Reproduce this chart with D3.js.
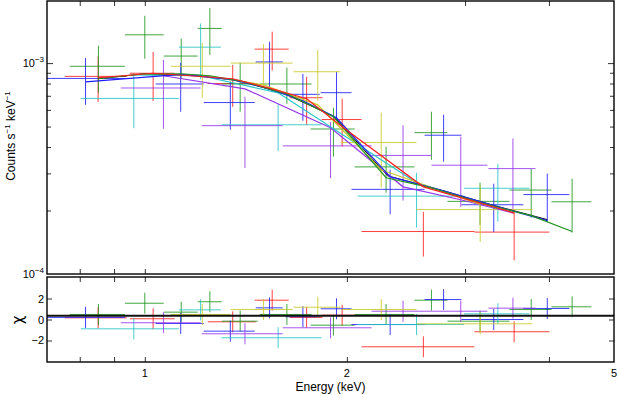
<!DOCTYPE html>
<html>
<head>
<meta charset="utf-8">
<script src="https://cdn.jsdelivr.net/npm/d3@7/dist/d3.min.js"></script>
<style>
body { margin: 0; background: #fff; }
svg { display: block; font-family: "Liberation Sans", Arial, sans-serif; }
</style>
</head>
<body>
<script>
// spectra, one row per bin: [E, Elo, Ehi, flux, fluxErr, chi]
var red = [
  [0.852, 0.760, 0.940, 8.65e-4, 2.10e-4, 0.16],
  [1.029, 0.950, 1.108, 8.95e-4, 2.34e-4, 0.07],
  [1.352, 1.241, 1.463, 8.00e-4, 1.80e-4, -0.22],
  [1.548, 1.458, 1.638, 1.165e-3, 2.44e-4, 1.84],
  [1.742, 1.644, 1.840, 6.85e-4, 1.76e-4, 0.20],
  [1.968, 1.834, 2.103, 5.40e-4, 1.38e-4, 0.41],
  [2.600, 2.103, 3.098, 1.59e-4, 3.8e-5, -2.60],
  [3.550, 3.098, 4.007, 1.58e-4, 4.2e-5, -1.17]
];
var green = [
  [0.853, 0.773, 0.934, 9.66e-4, 2.43e-4, 0.48],
  [1.000, 0.934, 1.067, 1.362e-3, 3.14e-4, 1.55],
  [1.133, 1.067, 1.199, 1.080e-3, 2.26e-4, 0.70],
  [1.250, 1.199, 1.302, 1.460e-3, 3.66e-4, 1.69],
  [1.387, 1.302, 1.473, 7.96e-4, 2.08e-4, -0.16],
  [1.628, 1.483, 1.772, 7.96e-4, 1.55e-4, 0.48],
  [1.910, 1.766, 2.054, 4.87e-4, 1.27e-4, -0.54],
  [2.288, 2.054, 2.522, 3.22e-4, 7.9e-5, 0.48],
  [2.673, 2.522, 2.824, 4.68e-4, 1.20e-4, 1.84],
  [3.158, 2.824, 3.493, 2.21e-4, 5.0e-5, -0.16],
  [3.764, 3.493, 4.035, 2.50e-4, 6.5e-5, 0.95],
  [4.331, 4.035, 4.627, 2.20e-4, 6.3e-5, 1.21]
];
var blue = [
  [0.816, 0.698, 0.934, 8.46e-4, 2.12e-4, 0.20],
  [1.131, 1.038, 1.224, 7.96e-4, 2.08e-4, -0.38],
  [1.341, 1.224, 1.458, 6.50e-4, 1.66e-4, -1.11],
  [1.534, 1.463, 1.605, 1.013e-3, 2.49e-4, 1.11],
  [1.720, 1.621, 1.822, 7.11e-4, 1.78e-4, 0.26],
  [1.930, 1.828, 2.032, 7.24e-4, 1.85e-4, 1.02],
  [2.320, 2.032, 2.611, 2.52e-4, 6.0e-5, -0.48],
  [2.787, 2.611, 2.963, 4.55e-4, 1.14e-4, 1.90],
  [3.310, 2.963, 3.664, 2.13e-4, 5.5e-5, 0.00],
  [3.977, 3.664, 4.290, 2.38e-4, 6.1e-5, 1.05]
];
var cyan = [
  [0.963, 0.803, 1.124, 6.80e-4, 1.89e-4, -0.89],
  [1.211, 1.124, 1.298, 1.190e-3, 3.51e-4, 0.92],
  [1.580, 1.302, 1.834, 5.10e-4, 1.27e-4, -1.74],
  [2.540, 2.075, 2.990, 2.34e-4, 6.8e-5, -0.48],
  [3.357, 2.990, 3.741, 2.55e-4, 7.8e-5, 0.54]
];
var purple = [
  [1.066, 0.921, 1.211, 7.62e-4, 2.74e-4, -0.31],
  [1.410, 1.216, 1.605, 5.05e-4, 1.87e-4, -1.36],
  [1.891, 1.605, 2.177, 4.05e-4, 1.20e-4, -0.79],
  [2.425, 2.177, 2.674, 3.65e-4, 1.42e-4, 0.79],
  [2.956, 2.674, 3.239, 3.28e-4, 1.20e-4, 0.79],
  [3.535, 3.250, 3.819, 3.16e-4, 1.23e-4, 1.08]
];
var yellow = [
  [1.218, 1.093, 1.343, 9.66e-4, 2.80e-4, 0.48],
  [1.502, 1.343, 1.661, 1.000e-3, 2.30e-4, 0.95],
  [1.810, 1.666, 1.957, 9.10e-4, 2.46e-4, 1.17],
  [2.250, 1.964, 2.539, 4.20e-4, 1.63e-4, 0.95],
  [3.160, 2.539, 3.780, 2.02e-4, 6.0e-5, -0.41]
];

// folded model at the bin centres: [E, flux]
var blackModel = [[0.851, 8.43e-4], [1.0, 8.90e-4], [1.207, 8.75e-4], [1.409, 8.15e-4], [1.627, 7.08e-4],
  [1.911, 5.60e-4], [2.300, 2.92e-4], [2.749, 2.51e-4], [3.318, 2.11e-4], [3.98, 1.81e-4]];
var redModel = [[0.852, 8.52e-4], [1.029, 8.95e-4], [1.352, 8.43e-4], [1.548, 7.55e-4], [1.742, 6.78e-4],
  [1.968, 4.99e-4], [2.60, 2.59e-4], [3.55, 1.95e-4]];
var greenModel = [[0.853, 8.43e-4], [1.0, 8.90e-4], [1.133, 8.90e-4], [1.25, 8.71e-4], [1.387, 8.24e-4],
  [1.628, 7.15e-4], [1.91, 5.57e-4], [2.288, 2.86e-4], [2.673, 2.56e-4], [3.158, 2.18e-4],
  [3.764, 1.89e-4], [4.331, 1.59e-4]];
var blueModel = [[0.816, 8.15e-4], [1.131, 8.85e-4], [1.341, 8.38e-4], [1.534, 7.55e-4], [1.72, 6.63e-4],
  [1.93, 5.50e-4], [2.32, 2.89e-4], [2.787, 2.48e-4], [3.31, 2.11e-4], [3.977, 1.79e-4]];
var cyanModel = [[0.963, 8.80e-4], [1.211, 8.71e-4], [1.58, 7.23e-4], [2.54, 2.71e-4], [3.357, 2.04e-4]];
var purpleModel = [[1.066, 8.71e-4], [1.41, 7.55e-4], [1.891, 4.94e-4], [2.425, 2.59e-4], [2.956, 2.25e-4],
  [3.535, 1.95e-4]];
var yellowModel = [[1.218, 8.75e-4], [1.502, 7.89e-4], [1.81, 6.34e-4], [2.25, 3.12e-4], [3.16, 2.135e-4]];

var xTicks = [0.8, 0.9, 1, 2, 3, 4];
var xLabels = [1, 2, 5];
var yMajor = [1e-3];
var yMinor = [2e-4, 3e-4, 4e-4, 5e-4, 6e-4, 7e-4, 8e-4, 9e-4];
var yLabels = [[1e-3, "\u22123"], [1e-4, "\u22124"]];
var chiTicks = [-2, 0, 2];
var chiLine = 0.35;

var groups = [
  {data: red, color: "#ff1f1f"},
  {data: green, color: "#1f961f"},
  {data: blue, color: "#1f1fff"},
  {data: cyan, color: "#22c6c6"},
  {data: purple, color: "#9536ea"},
  {data: yellow, color: "#c9c924"}
];
var models = [
  {data: blackModel, color: "#111", w: 1},
  {data: purpleModel, color: "#9536ea", w: 1.2},
  {data: cyanModel, color: "#22c6c6", w: 1.2},
  {data: yellowModel, color: "#c9c924", w: 1.2},
  {data: blueModel, color: "#1f1fff", w: 1.2},
  {data: greenModel, color: "#1f961f", w: 1.2},
  {data: redModel, color: "#ff1f1f", w: 1.2}
];

var W = 617, H = 395;
var left = 47, right = 614;
var svg = d3.select("body").append("svg").attr("width", W).attr("height", H);

var x = d3.scaleLog().domain([0.715, 5]).range([left, right]);
var y = d3.scaleLog().domain([1e-4, 1.97e-3]).range([274, 1]);
var yc = d3.scaleLinear().domain([-4.05, 4.05]).range([362, 277]);

var defs = svg.append("defs");
defs.append("clipPath").attr("id", "clipTop").append("rect")
  .attr("x", left).attr("y", 1).attr("width", right - left).attr("height", 273);
defs.append("clipPath").attr("id", "clipBot").append("rect")
  .attr("x", left).attr("y", 277).attr("width", right - left).attr("height", 85);

// data crosses
var upper = svg.append("g").attr("clip-path", "url(#clipTop)");
var lower = svg.append("g").attr("clip-path", "url(#clipBot)");

groups.forEach(function (g) {
  var gt = upper.append("g").style("stroke", g.color).style("stroke-width", 1).style("stroke-opacity", 0.85);
  gt.selectAll("line.h").data(g.data).enter().append("line").attr("class", "h")
    .attr("x1", function (d) { return x(d[1]); })
    .attr("x2", function (d) { return x(d[2]); })
    .attr("y1", function (d) { return y(d[3]); })
    .attr("y2", function (d) { return y(d[3]); });
  gt.selectAll("line.v").data(g.data).enter().append("line").attr("class", "v")
    .attr("x1", function (d) { return x(d[0]); })
    .attr("x2", function (d) { return x(d[0]); })
    .attr("y1", function (d) { return y(d[3] + d[4]); })
    .attr("y2", function (d) { return y(d[3] - d[4]); });

  var gb = lower.append("g").style("stroke", g.color).style("stroke-width", 1).style("stroke-opacity", 0.85);
  gb.selectAll("line.h").data(g.data).enter().append("line").attr("class", "h")
    .attr("x1", function (d) { return x(d[1]); })
    .attr("x2", function (d) { return x(d[2]); })
    .attr("y1", function (d) { return yc(d[5]); })
    .attr("y2", function (d) { return yc(d[5]); });
  gb.selectAll("line.v").data(g.data).enter().append("line").attr("class", "v")
    .attr("x1", function (d) { return x(d[0]); })
    .attr("x2", function (d) { return x(d[0]); })
    .attr("y1", function (d) { return yc(d[5] + 1); })
    .attr("y2", function (d) { return yc(d[5] - 1); });
});

// model curves
var line = d3.line().x(function (d) { return x(d[0]); }).y(function (d) { return y(d[1]); });
models.forEach(function (m) {
  upper.append("path").datum(m.data).attr("d", line)
    .style("fill", "none").style("stroke", m.color).style("stroke-width", m.w);
});

lower.append("line")
  .attr("x1", left).attr("x2", right)
  .attr("y1", yc(chiLine)).attr("y2", yc(chiLine))
  .style("stroke", "#111").style("stroke-width", 2);

// ticks
function ticks(axis, tx, ty) {
  var g = svg.append("g").attr("transform", "translate(" + tx + "," + ty + ")").call(axis);
  g.select(".domain").remove();
  g.selectAll("line").style("stroke", "#333");
  g.selectAll("text").remove();
}
ticks(d3.axisBottom(x).tickValues(xTicks).tickSize(-5), 0, 274);
ticks(d3.axisTop(x).tickValues(xTicks).tickSize(-5), 0, 1);
ticks(d3.axisTop(x).tickValues(xTicks).tickSize(-5), 0, 277);
ticks(d3.axisBottom(x).tickValues(xTicks).tickSize(-5), 0, 362);
ticks(d3.axisLeft(y).tickValues(yMajor).tickSize(-6), left, 0);
ticks(d3.axisLeft(y).tickValues(yMinor).tickSize(-4), left, 0);
ticks(d3.axisRight(y).tickValues(yMajor).tickSize(-6), right, 0);
ticks(d3.axisRight(y).tickValues(yMinor).tickSize(-4), right, 0);
ticks(d3.axisLeft(yc).tickValues(chiTicks).tickSize(-5), left, 0);
ticks(d3.axisRight(yc).tickValues(chiTicks).tickSize(-5), right, 0);

// frames
svg.append("rect").attr("x", left).attr("y", 1).attr("width", right - left).attr("height", 273)
  .style("fill", "none").style("stroke", "#000").style("stroke-width", 1.4);
svg.append("rect").attr("x", left).attr("y", 277).attr("width", right - left).attr("height", 85)
  .style("fill", "none").style("stroke", "#000").style("stroke-width", 1.4);

// labels
var txt = svg.append("g").style("fill", "#000").style("font-size", "11px");
txt.selectAll("text.xl").data(xLabels).enter().append("text").attr("class", "xl")
  .attr("x", function (d) { return x(d); }).attr("y", 377)
  .attr("text-anchor", "middle").text(function (d) { return d; });

yLabels.forEach(function (d) {
  var t = txt.append("text").attr("x", 44).attr("y", y(d[0]) + 4).attr("text-anchor", "end");
  t.append("tspan").text("10");
  t.append("tspan").attr("dy", -5).style("font-size", "8px").text(d[1]);
});

txt.selectAll("text.cl").data(chiTicks).enter().append("text").attr("class", "cl")
  .attr("x", 44).attr("y", function (d) { return yc(d) + 4; })
  .attr("text-anchor", "end").text(function (d) { return d < 0 ? "\u2212" + (-d) : d; });

svg.append("text").attr("x", 330.5).attr("y", 391).attr("text-anchor", "middle")
  .style("font-size", "12px").text("Energy (keV)");

var yl = svg.append("text").attr("transform", "translate(15,136) rotate(-90)")
  .attr("text-anchor", "middle").style("font-size", "12px");
yl.append("tspan").text("Counts s");
yl.append("tspan").attr("dy", -5).style("font-size", "8px").text("\u22121");
yl.append("tspan").attr("dy", 5).text(" keV");
yl.append("tspan").attr("dy", -5).style("font-size", "8px").text("\u22121");

svg.append("text").attr("transform", "translate(23,320) rotate(-90)")
  .attr("text-anchor", "middle").style("font-family", "'DejaVu Sans', sans-serif")
  .style("font-size", "15px").text("\u03c7");
</script>
</body>
</html>
